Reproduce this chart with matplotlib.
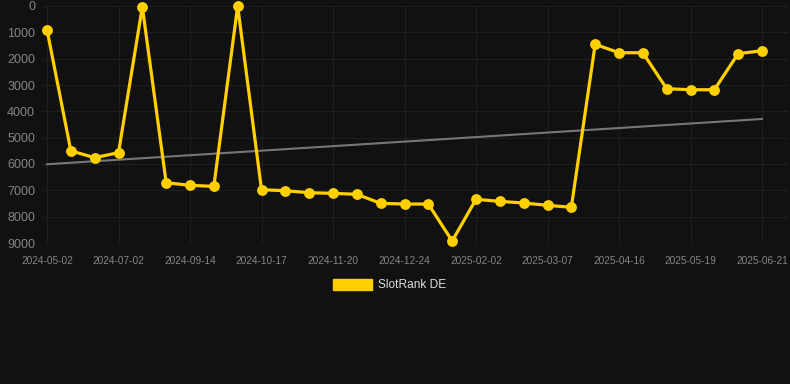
import matplotlib
matplotlib.use("Agg")
import matplotlib.pyplot as plt
import numpy as np

tick_labels = ["2024-05-02", "2024-07-02", "2024-09-14", "2024-10-17", "2024-11-20",
               "2024-12-24", "2025-02-02", "2025-03-07", "2025-04-16", "2025-05-19",
               "2025-06-21"]
rank_values = [900, 5500, 5760, 5570, 30, 6710, 6810, 6850, 0, 6975, 7015, 7090, 7115,
               7150, 7495, 7520, 7520, 8925, 7340, 7420, 7480, 7570, 7645, 1455, 1775,
               1775, 3140, 3180, 3180, 1810, 1700]
trend_ends = [6010, 4290]
y_ticks = [0, 1000, 2000, 3000, 4000, 5000, 6000, 7000, 8000, 9000]
series_name = "SlotRank DE"

plt.rcParams['font.family'] = ['Liberation Sans', 'DejaVu Sans']

W, H = 790, 384
bg = "#111111"
fig = plt.figure(figsize=(W / 100, H / 100), dpi=100, facecolor=bg)

left_px, right_px, top_px, bot_px = 42, 788, 6, 243
ax = fig.add_axes([left_px / W, 1 - bot_px / H, (right_px - left_px) / W, (bot_px - top_px) / H])
ax.set_facecolor(bg)

n = len(rank_values)
x = np.arange(n)
step = 715 / 30
ax.set_xlim(-(47 - left_px) / step, (n - 1) + (right_px - 762) / step)
ax.set_ylim(9000, 0)

ax.plot([0, n - 1], trend_ends, color="#777777", lw=1.5, zorder=2)
ax.plot(x, rank_values, color="#FFD000", lw=2.3, marker="o", markersize=7.8,
        markeredgewidth=0, zorder=3, clip_on=False)

tick_pos = np.arange(0, n, 3)
ax.set_xticks(tick_pos)
ax.set_xticklabels(tick_labels)
ax.set_yticks(y_ticks)
ax.set_yticklabels([str(v) for v in y_ticks])
ax.tick_params(axis="x", labelsize=7.3, length=0, pad=9)
ax.tick_params(axis="y", labelsize=9, length=0, pad=5)
for lab in ax.get_xticklabels() + ax.get_yticklabels():
    lab.set_color("#858585")

ax.grid(True, color="#1f1f1f", lw=0.8)
for s in ax.spines.values():
    s.set_visible(False)

# legend
fig.patches.append(plt.Rectangle((333 / W, 1 - 290 / H), 39 / W, 11 / H,
                                 transform=fig.transFigure, color="#FFD000"))
fig.text(378 / W, 1 - 285 / H, series_name, color="#dddddd", fontsize=8.6, va="center", ha="left")

fig.savefig("out.png", dpi=100, facecolor=bg)
